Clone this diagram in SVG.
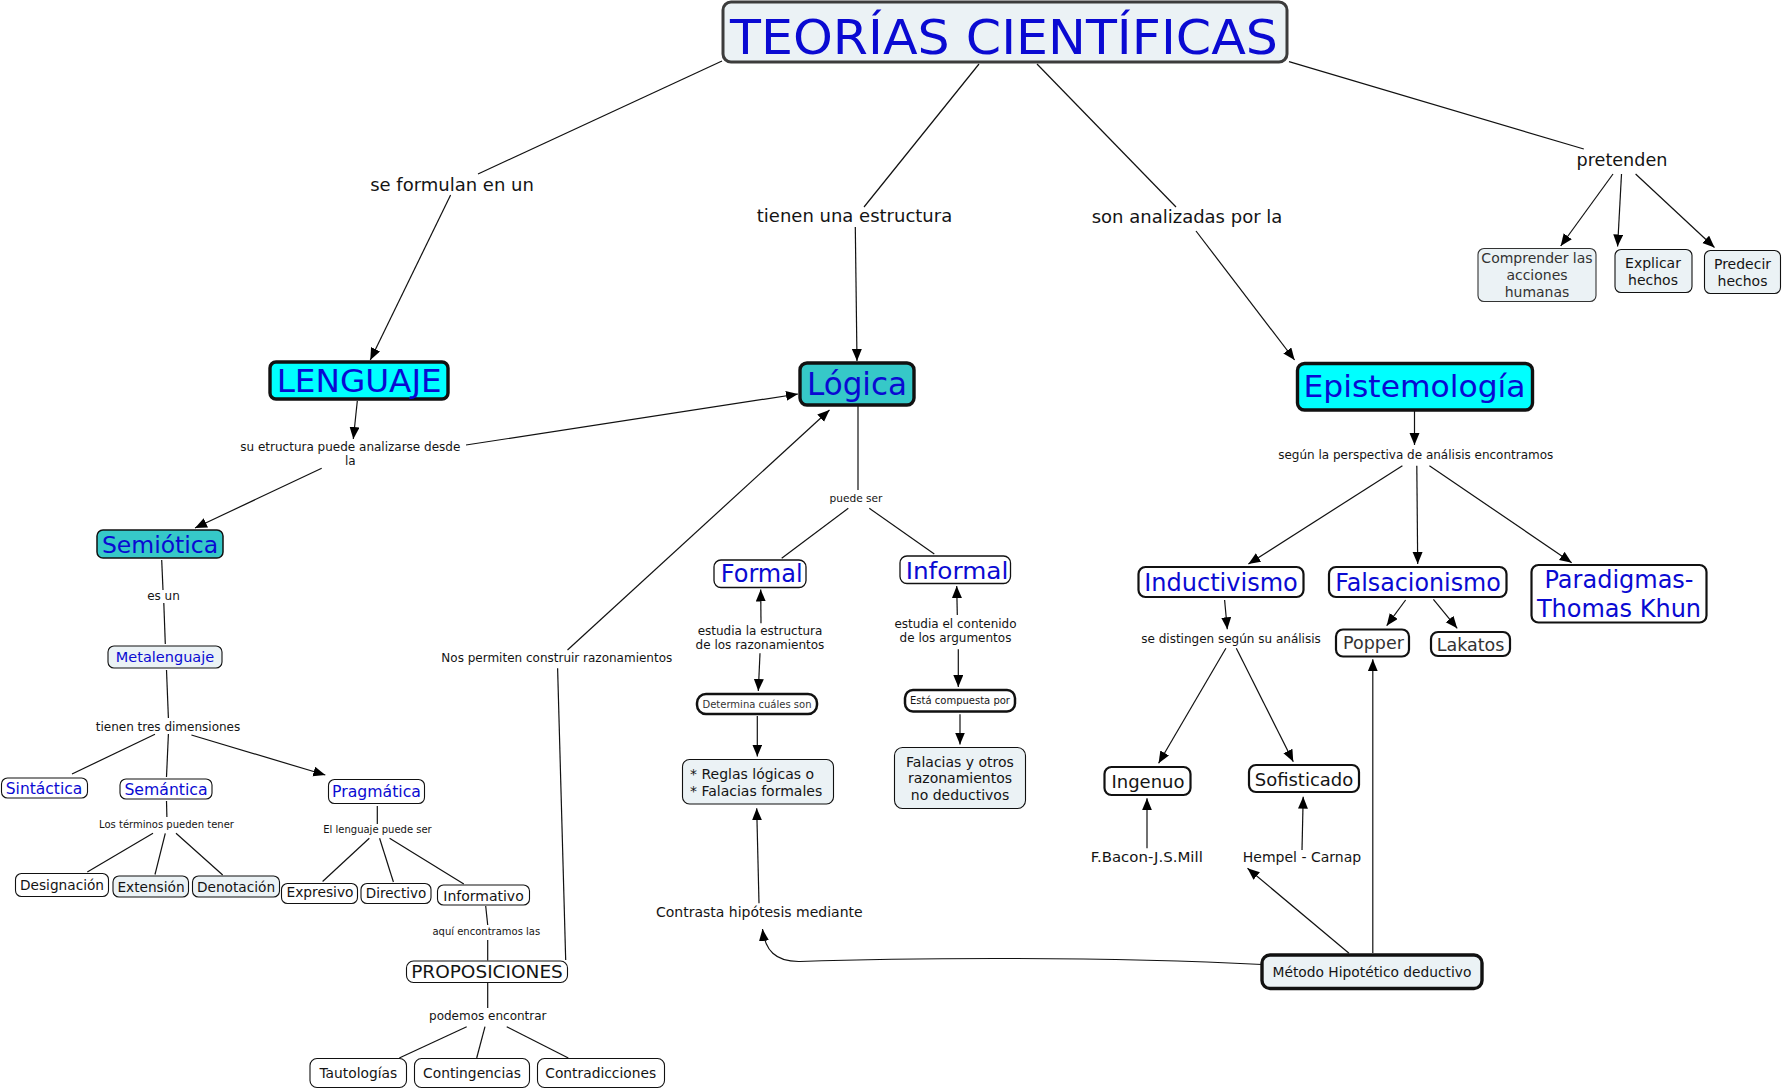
<svg xmlns="http://www.w3.org/2000/svg" width="1784" height="1091" viewBox="0 0 1784 1091">
<style>
text{font-family:"DejaVu Sans",Verdana,sans-serif;text-anchor:middle;fill:#141414}
.b{fill:#0a0ad2}
.g{fill:#333}
.l{text-anchor:start}
g rect{stroke:#111}
.lt{fill:#ebf2f5}
.wh{fill:#fff}
.cy{fill:#00ffff}
.tl{fill:#36c8c8}
.s1{stroke-width:1.1}
.s2{stroke-width:2.2}
.s3{stroke-width:3.4}
#conn line,#conn path{stroke:#111;stroke-width:1.2;fill:none}
#conn .a{marker-end:url(#ah)}
</style>
<defs>
<marker id="ah" markerUnits="userSpaceOnUse" markerWidth="13" markerHeight="11" refX="12" refY="5" orient="auto">
<path d="M0,0 L12,5 L0,10 z" fill="#000"/>
</marker>
</defs>
<rect width="1784" height="1091" fill="#fff"/>
<g id="conn">
<line x1="722" y1="61" x2="478" y2="174"/>
<line class="a" x1="450.6" y1="195" x2="370.3" y2="360"/>
<line x1="979" y1="64" x2="864" y2="207"/>
<line class="a" x1="855.3" y1="227" x2="857" y2="361"/>
<line x1="1037" y1="64" x2="1176" y2="207"/>
<line class="a" x1="1196" y1="231" x2="1294.6" y2="360"/>
<line x1="1289" y1="61.7" x2="1583.8" y2="149"/>
<line class="a" x1="1613" y1="174" x2="1560.7" y2="246"/>
<line class="a" x1="1621.5" y1="174" x2="1617.6" y2="246.5"/>
<line class="a" x1="1635.6" y1="174" x2="1714.5" y2="247.5"/>
<line class="a" x1="357.3" y1="401" x2="353.3" y2="439"/>
<line class="a" x1="466" y1="445" x2="798" y2="394"/>
<line class="a" x1="321.7" y1="468.3" x2="195" y2="528"/>
<line x1="161.7" y1="560" x2="163" y2="590"/>
<line x1="163.8" y1="603" x2="165.3" y2="644"/>
<line x1="166.5" y1="670" x2="168.4" y2="718"/>
<line x1="155" y1="734.3" x2="72" y2="774"/>
<line x1="168.4" y1="734" x2="166.5" y2="777"/>
<line class="a" x1="191.4" y1="735" x2="325.3" y2="775"/>
<line x1="166.5" y1="801" x2="166.9" y2="817"/>
<line x1="153" y1="833.3" x2="87.3" y2="872"/>
<line x1="165.3" y1="833.3" x2="155" y2="874.5"/>
<line x1="176" y1="833.3" x2="222.7" y2="875"/>
<line x1="377.3" y1="806" x2="377.3" y2="824"/>
<line x1="369.3" y1="838.3" x2="322.6" y2="881.5"/>
<line x1="379.6" y1="838.3" x2="393.4" y2="882"/>
<line x1="389.6" y1="838.3" x2="463.8" y2="884"/>
<line x1="485.7" y1="906" x2="487.7" y2="925"/>
<line x1="487.7" y1="940" x2="487.7" y2="960.5"/>
<line x1="487.7" y1="983" x2="487.7" y2="1008"/>
<line x1="466.7" y1="1026.7" x2="399.3" y2="1058"/>
<line x1="485" y1="1026.7" x2="476.7" y2="1058"/>
<line x1="506.7" y1="1026.7" x2="568.3" y2="1058"/>
<line x1="565.7" y1="960" x2="557.6" y2="668.3"/>
<line class="a" x1="567.5" y1="650" x2="829.5" y2="410"/>
<line x1="858" y1="405" x2="858" y2="490"/>
<line x1="848.3" y1="508.3" x2="781.7" y2="558.3"/>
<line x1="869.3" y1="508.3" x2="934.3" y2="554"/>
<line class="a" x1="761" y1="623.3" x2="760.7" y2="589.5"/>
<line class="a" x1="760" y1="653.3" x2="758.3" y2="691"/>
<line class="a" x1="757.3" y1="716" x2="757.3" y2="756.5"/>
<line class="a" x1="957.3" y1="615" x2="956.7" y2="586"/>
<line class="a" x1="958.3" y1="649.3" x2="958.3" y2="687"/>
<line class="a" x1="960" y1="714.3" x2="960" y2="744.5"/>
<line class="a" x1="759" y1="903.3" x2="756.7" y2="808.3"/>
<path class="a" d="M1262,964.5 C1100,956 900,958 800,961.5 C775,962 765,950 762.5,929"/>
<line class="a" x1="1349" y1="953.3" x2="1247.5" y2="868.3"/>
<line class="a" x1="1372.8" y1="953" x2="1372.8" y2="659.3"/>
<line class="a" x1="1414.5" y1="410" x2="1414.5" y2="445"/>
<line class="a" x1="1402.4" y1="465.7" x2="1248.4" y2="564"/>
<line class="a" x1="1416.8" y1="465.7" x2="1417.7" y2="564"/>
<line class="a" x1="1429.4" y1="465.7" x2="1571.7" y2="562.7"/>
<line class="a" x1="1224.6" y1="600" x2="1227.3" y2="629.3"/>
<line class="a" x1="1225.9" y1="648.3" x2="1158.6" y2="763.3"/>
<line class="a" x1="1236.3" y1="648.3" x2="1293.3" y2="761.7"/>
<line class="a" x1="1405.6" y1="600" x2="1386.7" y2="625.7"/>
<line class="a" x1="1433.4" y1="599.3" x2="1457.2" y2="628.3"/>
<line class="a" x1="1147" y1="848.3" x2="1147" y2="798.3"/>
<line class="a" x1="1302" y1="850" x2="1303.2" y2="796.7"/>
</g>
<g id="labels">
<text x="452" y="190.5" font-size="18">se formulan en un</text>
<text x="854.5" y="221.5" font-size="18">tienen una estructura</text>
<text x="1187" y="223" font-size="18">son analizadas por la</text>
<text x="1622" y="165.7" font-size="17.6">pretenden</text>
<text x="350.3" y="450.7" font-size="12">su etructura puede analizarse desde</text>
<text x="350.3" y="465.3" font-size="12">la</text>
<text x="163.5" y="599.5" font-size="12">es un</text>
<text x="168" y="730.7" font-size="12">tienen tres dimensiones</text>
<text x="166.5" y="828.3" font-size="10">Los términos pueden tener</text>
<text x="377.5" y="833.3" font-size="10">El lenguaje puede ser</text>
<text x="486.3" y="935" font-size="10">aquí encontramos las</text>
<text x="487.8" y="1020" font-size="12">podemos encontrar</text>
<text x="556.8" y="661.5" font-size="12">Nos permiten construir razonamientos</text>
<text x="856" y="501.7" font-size="10.6">puede ser</text>
<text x="760" y="635" font-size="12">estudia la estructura</text>
<text x="760" y="649" font-size="12">de los razonamientos</text>
<text x="955.5" y="628.3" font-size="12">estudia el contenido</text>
<text x="955.5" y="642.3" font-size="12">de los argumentos</text>
<text x="759.3" y="916.7" font-size="14">Contrasta hipótesis mediante</text>
<text x="1415.8" y="459" font-size="12">según la perspectiva de análisis encontramos</text>
<text x="1231" y="642.7" font-size="12">se distingen según su análisis</text>
<text x="1146.8" y="861.7" font-size="14" textLength="112" lengthAdjust="spacingAndGlyphs">F.Bacon-J.S.Mill</text>
<text x="1302" y="861.7" font-size="14">Hempel - Carnap</text>
</g>
<g id="n-titulo"><rect class="lt" x="723" y="2" width="564" height="60" rx="8" style="stroke:#3c3c3c" stroke-width="3"/><text class="b" x="1004" y="54" font-size="47.5" textLength="548" lengthAdjust="spacingAndGlyphs">TEORÍAS CIENTÍFICAS</text></g>
<g id="n-lenguaje"><rect class="cy s3" x="270" y="362" width="178" height="37" rx="6"/><text class="b" x="359.2" y="392" font-size="32" textLength="165" lengthAdjust="spacingAndGlyphs">LENGUAJE</text></g>
<g id="n-logica"><rect class="tl s3" x="800" y="363" width="114" height="42" rx="7"/><text class="b" x="857" y="394.5" font-size="32" textLength="100" lengthAdjust="spacingAndGlyphs">Lógica</text></g>
<g id="n-epistemologia"><rect class="cy s3" x="1297.5" y="363.5" width="235" height="46.5" rx="7"/><text class="b" x="1414.5" y="397" font-size="30.5" textLength="222" lengthAdjust="spacingAndGlyphs">Epistemología</text></g>
<g id="n-comprender"><rect class="lt s1" x="1478" y="248.5" width="118" height="53" rx="6" style="stroke:#333"/><text class="g" x="1537" y="263" font-size="14">Comprender las</text><text class="g" x="1537" y="280" font-size="14">acciones</text><text class="g" x="1537" y="297" font-size="14">humanas</text></g>
<g id="n-explicar"><rect class="lt s1" x="1615" y="249.5" width="77" height="43" rx="6"/><text x="1653" y="268" font-size="14">Explicar</text><text x="1653" y="285" font-size="14">hechos</text></g>
<g id="n-predecir"><rect class="lt s1" x="1704.5" y="250.5" width="76" height="43" rx="6"/><text x="1742.5" y="269" font-size="14">Predecir</text><text x="1742.5" y="286" font-size="14">hechos</text></g>
<g id="n-semiotica"><rect class="tl" x="97" y="530" width="126" height="28" rx="6" stroke-width="1.5"/><text class="b" x="160" y="553" font-size="23.5">Semiótica</text></g>
<g id="n-metalenguaje"><rect class="lt s1" x="108" y="646" width="114" height="22" rx="6"/><text class="b" x="165" y="661.5" font-size="14.5">Metalenguaje</text></g>
<g id="n-sintactica"><rect class="wh s1" x="1.5" y="778" width="86" height="20" rx="6"/><text class="b" x="44" y="793.5" font-size="15.5">Sintáctica</text></g>
<g id="n-semantica"><rect class="wh s1" x="120" y="779" width="92" height="20" rx="6"/><text class="b" x="166" y="795" font-size="15.7">Semántica</text></g>
<g id="n-pragmatica"><rect class="wh s1" x="328.5" y="779.5" width="96" height="24" rx="6"/><text class="b" x="376.5" y="797" font-size="15.7">Pragmática</text></g>
<g id="n-designacion"><rect class="wh s1" x="15.5" y="873.5" width="93" height="23" rx="6"/><text x="62" y="890" font-size="13.7">Designación</text></g>
<g id="n-extension"><rect class="lt s1" x="113" y="876" width="75.5" height="21" rx="6"/><text x="151" y="892" font-size="13.7">Extensión</text></g>
<g id="n-denotacion"><rect class="lt s1" x="192.5" y="876" width="87" height="21" rx="6"/><text x="236" y="892" font-size="13.7">Denotación</text></g>
<g id="n-expresivo"><rect class="wh s1" x="281.5" y="883.5" width="76" height="20" rx="6"/><text x="320" y="897" font-size="13.8">Expresivo</text></g>
<g id="n-directivo"><rect class="wh s1" x="361" y="883.5" width="70" height="20" rx="6"/><text x="396" y="897.5" font-size="13.5">Directivo</text></g>
<g id="n-informativo"><rect class="wh s1" x="437.5" y="885" width="92" height="20" rx="6"/><text x="483.5" y="900.5" font-size="14">Informativo</text></g>
<g id="n-proposiciones"><rect class="wh s1" x="406.5" y="961" width="161" height="21.5" rx="7"/><text x="487" y="977.5" font-size="18" textLength="151.7" lengthAdjust="spacingAndGlyphs">PROPOSICIONES</text></g>
<g id="n-tautologias"><rect class="wh s1" x="310" y="1058.5" width="96.5" height="29" rx="7"/><text x="358.3" y="1077.5" font-size="13.8">Tautologías</text></g>
<g id="n-contingencias"><rect class="wh s1" x="414.5" y="1058.5" width="115" height="29" rx="7"/><text x="472" y="1077.5" font-size="13.8">Contingencias</text></g>
<g id="n-contradicciones"><rect class="wh s1" x="537.5" y="1058.5" width="127" height="29" rx="7"/><text x="600.7" y="1077.5" font-size="13.8">Contradicciones</text></g>
<g id="n-formal"><rect class="wh" x="714" y="560" width="92" height="27.5" rx="7" stroke-width="1.3"/><text class="b" x="761.7" y="581.5" font-size="24">Formal</text></g>
<g id="n-informal"><rect class="wh" x="900" y="556" width="110.5" height="27.5" rx="7" stroke-width="1.3"/><text class="b" x="957" y="578.5" font-size="22.5" textLength="102.7" lengthAdjust="spacingAndGlyphs">Informal</text></g>
<g id="n-determina"><rect class="wh" x="697" y="694" width="120" height="20" rx="9" stroke-width="2.5"/><text class="g" x="757" y="708.3" font-size="10">Determina cuáles son</text></g>
<g id="n-reglas"><rect class="lt s1" x="682.5" y="759.5" width="151" height="44.5" rx="7"/><text class="l" x="690" y="779.3" font-size="14">* Reglas lógicas o</text><text class="l" x="690" y="796" font-size="14">* Falacias formales</text></g>
<g id="n-compuesta"><rect class="wh" x="905" y="690" width="110" height="21.5" rx="8" stroke-width="2.5"/><text x="960" y="703.5" font-size="10">Está compuesta por</text></g>
<g id="n-falacias"><rect class="lt s1" x="894.5" y="747.5" width="131" height="61" rx="8"/><text x="960" y="766.7" font-size="14">Falacias y otros</text><text x="960" y="783.3" font-size="14">razonamientos</text><text x="960" y="800" font-size="14">no deductivos</text></g>
<g id="n-inductivismo"><rect class="wh s2" x="1138.5" y="567" width="165" height="30" rx="7"/><text class="b" x="1221" y="590.5" font-size="24" textLength="153.6" lengthAdjust="spacingAndGlyphs">Inductivismo</text></g>
<g id="n-falsacionismo"><rect class="wh s2" x="1329" y="567" width="177.5" height="30" rx="7"/><text class="b" x="1418" y="590.5" font-size="24" textLength="165.7" lengthAdjust="spacingAndGlyphs">Falsacionismo</text></g>
<g id="n-paradigmas"><rect class="wh s2" x="1531.5" y="565" width="175" height="57.5" rx="7"/><text class="b" x="1619" y="587.5" font-size="24">Paradigmas-</text><text class="b" x="1619" y="616.5" font-size="24">Thomas Khun</text></g>
<g id="n-popper"><rect class="wh s2" x="1336" y="629.5" width="73" height="27" rx="7"/><text class="g" x="1373.5" y="648.5" font-size="17.5">Popper</text></g>
<g id="n-lakatos"><rect class="wh s2" x="1431" y="632" width="79" height="24" rx="7"/><text class="g" x="1470.6" y="650.5" font-size="17.5">Lakatos</text></g>
<g id="n-ingenuo"><rect class="wh s2" x="1104.5" y="767" width="86" height="28" rx="7"/><text x="1148" y="787.5" font-size="18">Ingenuo</text></g>
<g id="n-sofisticado"><rect class="wh s2" x="1249" y="765" width="110" height="27" rx="7"/><text x="1304" y="785.5" font-size="18">Sofisticado</text></g>
<g id="n-metodo"><rect class="lt s3" x="1262" y="955" width="220" height="33.5" rx="8"/><text x="1372" y="976.7" font-size="13.8">Método Hipotético deductivo</text></g>
</svg>
